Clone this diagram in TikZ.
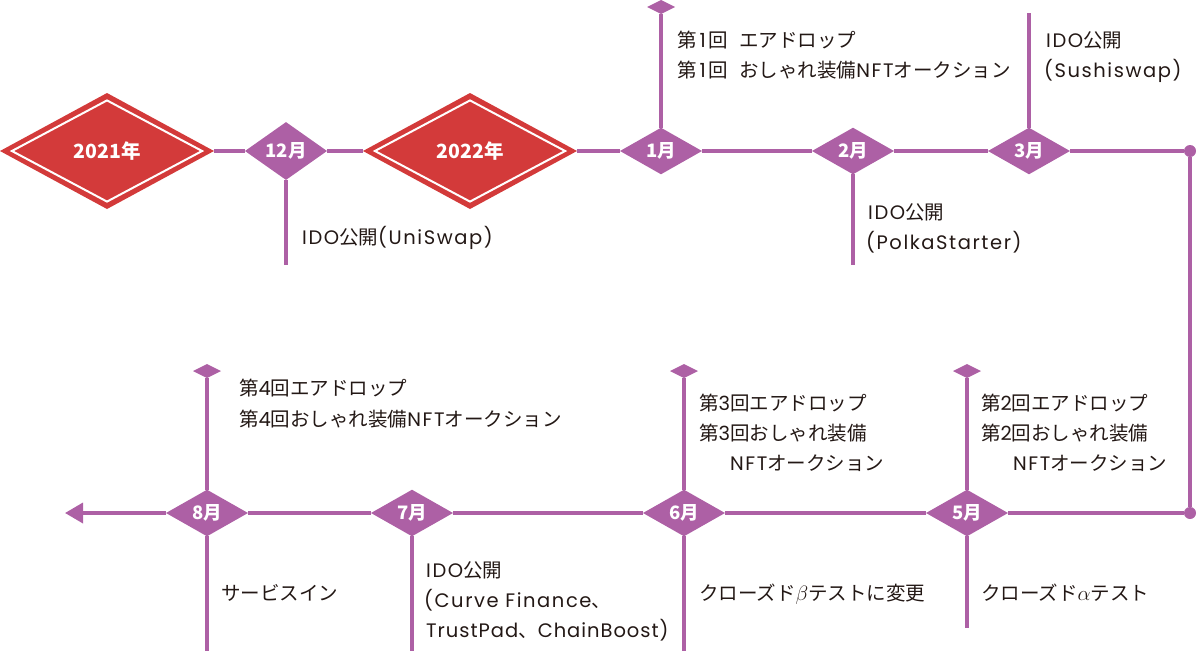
\documentclass[tikz,border=0pt]{standalone}
\usepackage{fontspec}
\setmainfont{Noto Sans CJK JP}
\newfontfamily\latf{Poppins}[LetterSpace=8]
\newfontfamily\latt{Poppins}[LetterSpace=5]
\newcommand\lx[1]{{\latf #1}}
\newcommand\lxt[1]{{\latt #1}}
\usetikzlibrary{shapes.geometric,arrows.meta}
\definecolor{pur}{HTML}{AD60A5}
\definecolor{redone}{HTML}{D33A3A}
\definecolor{txtc}{HTML}{231815}
\begin{document}
\begin{tikzpicture}[x=1pt,y=-1pt,
  conn/.style={draw=pur,line width=3.5pt},
  month/.style={diamond,fill=pur,inner sep=0pt,outer sep=0pt,minimum width=82pt,minimum height=46pt,text=white,font=\bfseries\fontsize{18.5}{18.5}\selectfont},
  mkr/.style={diamond,fill=pur,inner sep=0pt,outer sep=0pt,minimum width=28pt,minimum height=14pt},
  yearout/.style={diamond,fill=redone,inner sep=0pt,outer sep=0pt,minimum width=214pt,minimum height=116pt},
  yearin/.style={diamond,draw=white,line width=2pt,fill=redone,inner sep=0pt,minimum width=191pt,minimum height=102pt,text=white,font=\bfseries\fontsize{19.5}{19.5}\selectfont},
  enddot/.style={circle,fill=pur,inner sep=0pt,outer sep=0pt,minimum size=12pt},
  lbl/.style={anchor=base west,inner sep=0pt,text=txtc,font=\fontsize{19.5}{19.5}\selectfont},
]
\useasboundingbox (0,0) rectangle (1199,651);
% year diamonds
\node[yearout] (y21o) at (107,151) {};
\node[yearin] (y21) at (107,151) {2021年};
\node[yearout] (y22o) at (470,151) {};
\node[yearin] (y22) at (470,151) {2022年};
% month diamonds top
\node[month] (m12) at (286,151) {12月};
\node[month] (m1) at (661,151) {1月};
\node[month] (m2) at (853,151) {2月};
\node[month] (m3) at (1029,151) {3月};
\node[enddot] (dA) at (1190,151) {};
\node[enddot] (dB) at (1190,513) {};
% month diamonds bottom
\node[month] (m5) at (967,513) {5月};
\node[month] (m6) at (684,513) {6月};
\node[month] (m7) at (412,513) {7月};
\node[month] (m8) at (207,513) {8月};
% markers
\node[mkr] (mk1) at (661,7) {};
\node[mkr] (mk8) at (207,371) {};
\node[mkr] (mk6) at (684,371) {};
\node[mkr] (mk5) at (967,371) {};
% free ends
\coordinate (e12) at (286,265);
\coordinate (e2) at (853,265);
\coordinate (e3) at (1029,13);
\coordinate (e8) at (207,651);
\coordinate (e7) at (412,651);
\coordinate (e6) at (684,651);
\coordinate (e5) at (967,628);
\coordinate (aend) at (65,513);
% main line
\draw[conn] (y21o) -- (m12) -- (y22o) -- (m1) -- (m2) -- (m3) -- (dA);
\draw[conn] (dA) -- (dB) -- (m5) -- (m6) -- (m7) -- (m8);
\draw[conn,-{Triangle[length=18pt,width=20pt]}] (m8) -- (aend);
% vertical ticks
\draw[conn] (m12) -- (e12);
\draw[conn] (m1) -- (mk1);
\draw[conn] (m2) -- (e2);
\draw[conn] (m3) -- (e3);
\draw[conn] (m8) -- (mk8);
\draw[conn] (m8) -- (e8);
\draw[conn] (m7) -- (e7);
\draw[conn] (m6) -- (mk6);
\draw[conn] (m6) -- (e6);
\draw[conn] (m5) -- (mk5);
\draw[conn] (m5) -- (e5);
% labels
\node[lbl] (t12) at (302,244) {\lx{IDO}公開\lx{(UniSwap)}};
\node[lbl] (t1a) at (677,47) {第\kern3pt\lx{1}\kern3pt回\kern11pt エアドロップ};
\node[lbl] (t1b) at (677,77) {第\kern3pt\lx{1}\kern3pt回\kern11pt おしゃれ装備\lx{NFT}オークション};
\node[lbl] (t2a) at (868,219) {\lx{IDO}公開};
\node[lbl] (t2b) at (866,249) {\lx{(PolkaStarter)}};
\node[lbl] (t3a) at (1046,47) {\lx{IDO}公開};
\node[lbl] (t3b) at (1044,77) {\lx{(Sushiswap)}};
\node[lbl] (t8a) at (239,395) {第\lx{4}回エアドロップ};
\node[lbl] (t8b) at (239,426) {第\lx{4}回おしゃれ装備\lx{NFT}オークション};
\node[lbl] (t8c) at (221,600) {サービスイン};
\node[lbl] (t7a) at (426,577) {\lx{IDO}公開};
\node[lbl] (t7b) at (424,607) {\lx{(Curve Finance}、};
\node[lbl] (t7c) at (426,637) {\lxt{TrustPad}、\lxt{ChainBoost)}};
\node[lbl] (t6a) at (699,410) {第\lx{3}回エアドロップ};
\node[lbl] (t6b) at (699,440) {第\lx{3}回おしゃれ装備};
\node[lbl] (t6c) at (730,470) {\lx{NFT}オークション};
\node[lbl] (t6d) at (699,600) {クローズド$\beta$テストに変更};
\node[lbl] (t5a) at (981,410) {第\lx{2}回エアドロップ};
\node[lbl] (t5b) at (981,440) {第\lx{2}回おしゃれ装備};
\node[lbl] (t5c) at (1013,470) {\lx{NFT}オークション};
\node[lbl] (t5d) at (981,600) {クローズド$\alpha$テスト};
\end{tikzpicture}
\end{document}
